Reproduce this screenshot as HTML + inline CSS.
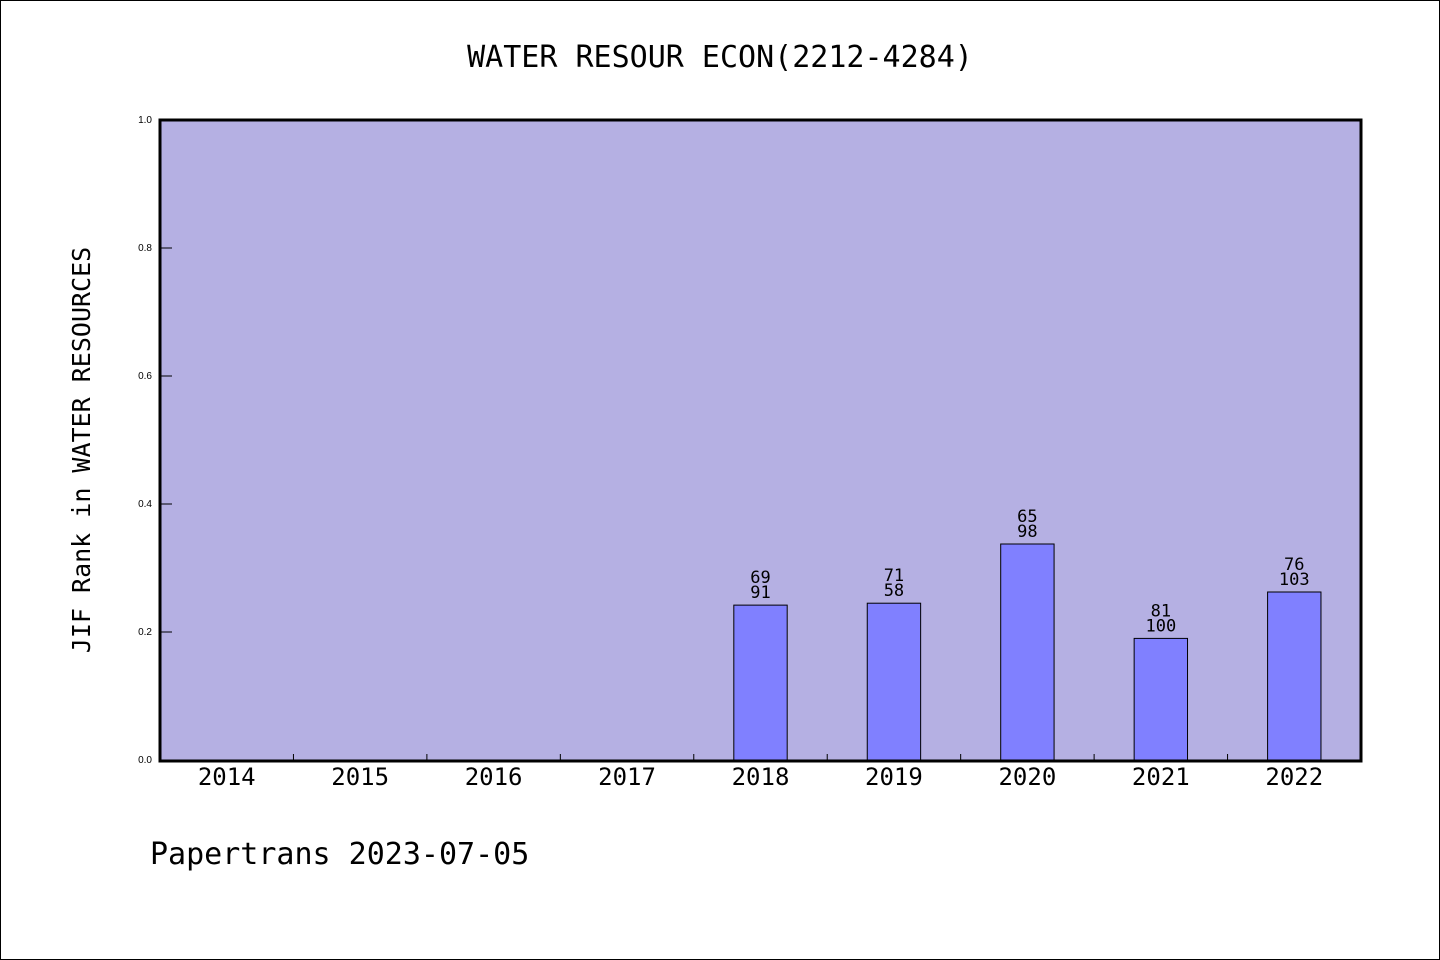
<!DOCTYPE html>
<html><head><meta charset="utf-8"><style>
body{margin:0;background:#fff}
svg{display:block;font-family:"DejaVu Sans Mono","Liberation Mono",monospace}
</style></head><body>
<svg width="1440" height="960" viewBox="0 0 1440 960">
<rect x="0.5" y="0.5" width="1439" height="959" fill="#fff" stroke="#000"/>
<text x="720" y="67" text-anchor="middle" font-size="30">WATER RESOUR ECON(2212-4284)</text>
<rect x="160" y="120" width="1201" height="641" fill="#b5b0e3"/>
<g id="bars"></g>
<g id="axes"></g>
<rect x="160" y="120" width="1201" height="641" fill="none" stroke="#000" stroke-width="3"/>
<text transform="translate(90,450) rotate(-90)" text-anchor="middle" font-size="25">JIF Rank in WATER RESOURCES</text>
<text x="150" y="864" font-size="30">Papertrans 2023-07-05</text>
</svg>
<script>
const categories=["2014","2015","2016","2017","2018","2019","2020","2021","2022"];
const values=[null,null,null,null,0.242,0.245,0.3375,0.19,0.2625];
const labelTop=[null,null,null,null,"69","71","65","81","76"];
const labelBottom=[null,null,null,null,"91","58","98","100","103"];
const yTicks=[0,0.2,0.4,0.6,0.8,1.0];
const ns="http://www.w3.org/2000/svg";
const X0=160,X1=1361,Y0=760,Y1=120;
const slot=(X1-X0)/categories.length;
const xc=i=>X0+slot*(i+0.5);
const y=v=>Y0-(v/1)*(Y0-Y1);
function mk(t,a,p){const e=document.createElementNS(ns,t);for(const k in a)e.setAttribute(k,a[k]);p.appendChild(e);return e;}
const bars=document.getElementById('bars'),axes=document.getElementById('axes');
const bw=slot*0.4;
categories.forEach((c,i)=>{
  const lab=mk('text',{x:xc(i),y:Y0+25,'text-anchor':'middle','font-size':'24'},axes);
  lab.textContent=c;
  
  
  if(i>0){const t=mk('line',{x1:X0+slot*i,x2:X0+slot*i,y1:Y0,y2:Y0-6,stroke:'#000','stroke-width':1},axes);
  
  }
  const v=values[i];
  if(v!=null){
    const r=mk('rect',{x:xc(i)-bw/2,y:y(v),width:bw,height:Y0-y(v),fill:'#8080ff',stroke:'#000','stroke-width':1},bars);
    
    
    const t1=mk('text',{x:xc(i),y:y(v)-22,'text-anchor':'middle','font-size':'17'},bars);
    t1.textContent=labelTop[i];
    
    
    const t2=mk('text',{x:xc(i),y:y(v)-7,'text-anchor':'middle','font-size':'17'},bars);
    t2.textContent=labelBottom[i];
    
    
  }
});
yTicks.forEach(v=>{
  const t=mk('line',{x1:X0,x2:X0+12,y1:y(v),y2:y(v),stroke:'#000','stroke-width':1},axes);
  
  
  const l=mk('text',{x:X0-8,y:y(v)+3,'text-anchor':'end','font-size':'10','font-family':'Liberation Sans, sans-serif'},axes);
  l.textContent=v.toFixed(1);
  
  
});
</script>
</body></html>
